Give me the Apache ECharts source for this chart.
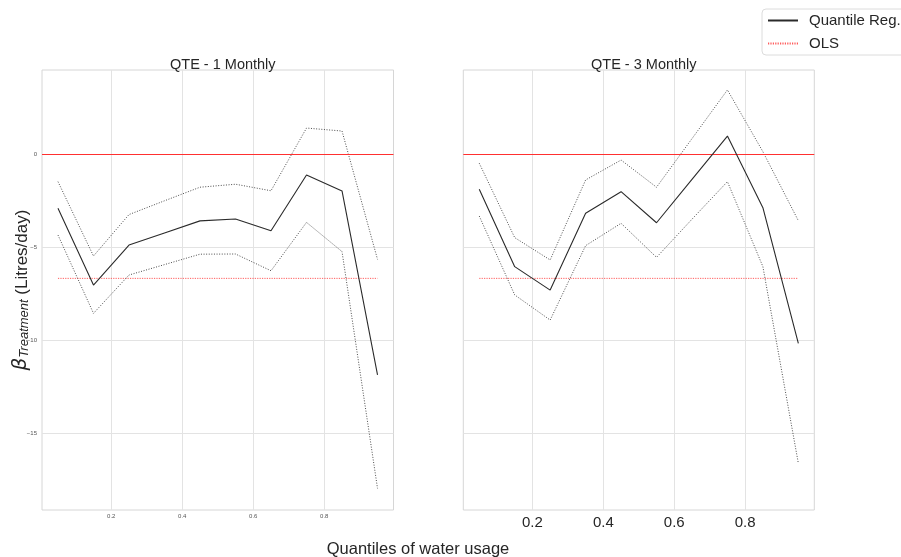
<!DOCTYPE html>
<html>
<head>
<meta charset="utf-8">
<script src="https://cdn.jsdelivr.net/npm/echarts@6/dist/echarts.min.js"></script>
<style>html,body{margin:0;padding:0;background:#fff}#c{width:901px;height:557px}</style>
</head>
<body>
<div id="c"></div>
<script>
const quantiles = [0.05, 0.15, 0.25, 0.35, 0.45, 0.55, 0.65, 0.75, 0.85, 0.95];
const xTicks = [0.2, 0.4, 0.6, 0.8];
const yTicks = [-15, -10, -5, 0];

// QTE - 1 Monthly
const qr1 = [-2.90, -7.03, -4.88, -4.23, -3.58, -3.48, -4.11, -1.11, -1.97, -11.86];
const upper1 = [-1.47, -5.47, -3.24, -2.50, -1.77, -1.61, -1.96, 1.41, 1.25, -5.65];
const lower1 = [-4.34, -8.55, -6.49, -5.93, -5.37, -5.36, -6.26, -3.66, -5.23, -17.96];
const ols1 = -6.67;

// QTE - 3 Monthly
const qr3 = [-1.88, -6.04, -7.30, -3.17, -2.01, -3.68, -1.35, 0.98, -2.87, -10.16];
const upper3 = [-0.48, -4.48, -5.68, -1.38, -0.31, -1.77, 0.84, 3.46, 0.14, -3.57];
const lower3 = [-3.32, -7.56, -8.91, -4.91, -3.71, -5.54, -3.49, -1.47, -6.04, -16.61];
const ols3 = -6.67;

const titles = ['QTE - 1 Monthly', 'QTE - 3 Monthly'];

const pair = arr => quantiles.map((q, i) => [q, arr[i]]);
const olsLine = v => [[quantiles[0], v], [quantiles[quantiles.length - 1], v]];

const chart = echarts.init(document.getElementById('c'), null, {renderer: 'canvas'});

const gridDef = [
  {left: 42, top: 70, width: 351.5, height: 440},
  {left: 463.3, top: 70, width: 351, height: 440}
];

function xAx(i, big) {
  return {
    type: 'value', gridIndex: i, min: 0.005, max: 0.995,
    axisLine: {show: false}, axisTick: {show: false, customValues: xTicks},
    axisLabel: {customValues: xTicks, fontSize: big ? 15 : 6, color: big ? '#262626' : '#555',
      margin: big ? 5 : 3, fontFamily: 'Liberation Sans', formatter: v => v.toFixed(1)},
    splitLine: {show: true, lineStyle: {color: '#e3e3e3', width: 1}}
  };
}
function yAx(i, showLabel) {
  return {
    type: 'value', gridIndex: i, min: -19.12, max: 4.53,
    axisLine: {show: false}, axisTick: {show: false, customValues: yTicks},
    axisLabel: {show: showLabel, customValues: yTicks, fontSize: 6, color: '#555', margin: 5,
      fontFamily: 'Liberation Sans', formatter: v => String(v).replace('-', '\u2212')},
    splitLine: {show: true, lineStyle: {color: '#e3e3e3', width: 1}}
  };
}

function panelSeries(i, qr, up, lo, ols) {
  const dotted = {color: '#3a3a3a', width: 1, type: [1, 1.6], opacity: 0.9};
  return [
    {name: 'Quantile Reg.', type: 'line', xAxisIndex: i, yAxisIndex: i, data: pair(qr), symbol: 'none',
      lineStyle: {color: '#2a2a2a', width: 1.1}, itemStyle: {color: '#444'}, silent: true, z: 5,
      markLine: {silent: true, symbol: 'none', label: {show: false},
        lineStyle: {color: '#ff3030', width: 1.2, type: 'solid'}, data: [{yAxis: 0}]}},
    {name: 'ub' + i, type: 'line', xAxisIndex: i, yAxisIndex: i, data: pair(up), symbol: 'none',
      lineStyle: dotted, silent: true, z: 4},
    {name: 'lb' + i, type: 'line', xAxisIndex: i, yAxisIndex: i, data: pair(lo), symbol: 'none',
      lineStyle: dotted, silent: true, z: 4},
    {name: 'OLS', type: 'line', xAxisIndex: i, yAxisIndex: i, data: olsLine(ols), symbol: 'none',
      lineStyle: {color: '#ff4040', width: 1, type: [1.2, 1.2], opacity: 0.85}, itemStyle: {color: '#ff6060'},
      silent: true, z: 3}
  ];
}

const option = {
  animation: false,
  backgroundColor: '#fff',
  textStyle: {fontFamily: 'Liberation Sans'},
  title: [
    {text: titles[0], left: 217.8, top: 52, textAlign: 'center',
      textStyle: {fontSize: 14.5, fontWeight: 'normal', color: '#262626', fontFamily: 'Liberation Sans'}},
    {text: titles[1], left: 638.8, top: 52, textAlign: 'center',
      textStyle: {fontSize: 14.5, fontWeight: 'normal', color: '#262626', fontFamily: 'Liberation Sans'}}
  ],
  legend: {
    data: ['Quantile Reg.', 'OLS'], orient: 'vertical', left: 762, top: 9,
    itemWidth: 30, itemHeight: 10, itemGap: 8,
    padding: [4, 40, 4, 5],
    borderColor: '#dcdcdc', borderWidth: 1, borderRadius: 4, backgroundColor: '#fff',
    itemStyle: {opacity: 0},
    textStyle: {fontSize: 15, color: '#262626', fontFamily: 'Liberation Sans', padding: [0, 0, 0, 6]},
    selectedMode: false
  },
  grid: gridDef.map(g => Object.assign({show: true, borderColor: '#d6d6d6', borderWidth: 1, backgroundColor: '#fff'}, g)),
  xAxis: [xAx(0, false), xAx(1, true)],
  yAxis: [yAx(0, true), yAx(1, false)],
  series: panelSeries(0, qr1, upper1, lower1, ols1).concat(panelSeries(1, qr3, upper3, lower3, ols3)),
  graphic: [
    {type: 'text', x: 418, y: 549, style: {text: 'Quantiles of water usage', fontSize: 16.5,
      fill: '#262626', fontFamily: 'Liberation Sans', align: 'center', verticalAlign: 'middle'}},
    {type: 'text', x: 20, y: 290, rotation: Math.PI / 2,
      style: {text: '{b|β}{s|Treatment}{n| (Litres/day)}', align: 'center', verticalAlign: 'middle',
        fill: '#262626', fontFamily: 'Liberation Sans',
        rich: {
          b: {fontSize: 20, fontStyle: 'italic', fill: '#262626', fontFamily: 'DejaVu Sans', verticalAlign: 'bottom', lineHeight: 22},
          s: {fontSize: 13, fontStyle: 'italic', fill: '#262626', fontFamily: 'Liberation Sans', verticalAlign: 'bottom', padding: [7, 0, 0, 0], lineHeight: 22},
          n: {fontSize: 17, fill: '#262626', fontFamily: 'Liberation Sans', verticalAlign: 'bottom', lineHeight: 22}
        }}}
  ]
};
chart.setOption(option);
</script>
</body>
</html>
